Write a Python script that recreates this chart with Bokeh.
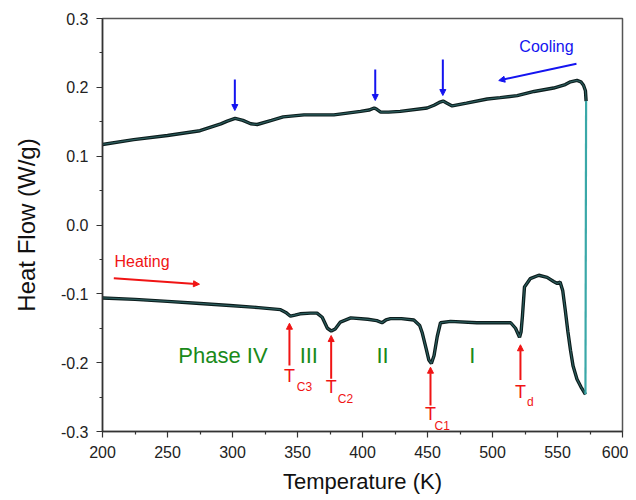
from bokeh.plotting import figure
from bokeh.models import Range1d, FixedTicker, Arrow, NormalHead
from bokeh.core.properties import value
from bokeh.embed import file_html
from bokeh.resources import INLINE

# ---- data ----
heat_T = [200, 225, 250, 275, 298, 320, 337, 341, 344.6, 348, 352, 360, 365, 369, 373, 376, 379, 383,
          391, 404, 411, 415, 418, 421.5, 430, 439.5, 444, 446, 449, 451, 453, 455, 457.5, 460, 467.7,
          488, 514, 517.7, 520.8, 522, 523, 524.6, 529, 535.6, 542, 547, 549.8, 552, 554, 556, 558, 560,
          562, 565, 568, 571.5]
heat_hf = [-0.106, -0.108, -0.111, -0.114, -0.117, -0.120, -0.123, -0.127, -0.1325, -0.131, -0.129,
           -0.128, -0.128, -0.134, -0.150, -0.154, -0.151, -0.141, -0.135, -0.137, -0.139, -0.142,
           -0.138, -0.136, -0.136, -0.138, -0.146, -0.157, -0.180, -0.196, -0.201, -0.190, -0.162,
           -0.142, -0.140, -0.142, -0.142, -0.150, -0.163, -0.155, -0.133, -0.090, -0.078, -0.073,
           -0.076, -0.082, -0.085, -0.083, -0.095, -0.124, -0.155, -0.182, -0.205, -0.224, -0.235, -0.246]

cool_T = [200, 224, 250, 275, 291, 296, 302, 308, 314, 319, 330, 339, 355, 378, 398.5, 405, 409, 411,
          414, 420, 429, 449.7, 455, 459, 462, 465, 469, 480, 496, 506, 519, 532, 547, 556, 560, 565,
          568, 570, 571.5, 572]
cool_hf = [0.117, 0.124, 0.130, 0.137, 0.147, 0.151, 0.155, 0.152, 0.147, 0.146, 0.152, 0.157, 0.160,
           0.160, 0.165, 0.167, 0.170, 0.168, 0.164, 0.164, 0.165, 0.170, 0.174, 0.178, 0.180, 0.177,
           0.173, 0.177, 0.183, 0.185, 0.188, 0.194, 0.199, 0.204, 0.208, 0.210, 0.208, 0.203, 0.195,
           0.180]

x_ticks = [200, 250, 300, 350, 400, 450, 500, 550, 600]
x_minor = [225, 275, 325, 375, 425, 475, 525, 575]
y_ticks = [-0.3, -0.2, -0.1, 0.0, 0.1, 0.2, 0.3]
y_minor = [-0.25, -0.15, -0.05, 0.05, 0.15, 0.25]
y_tick_labels = ["-0.3", "-0.2", "-0.1", "0.0", "0.1", "0.2", "0.3"]

# annotations (data coordinates)
cool_marks_T = [301.8, 409.8, 461.8]
cool_marks_top = [0.2114, 0.2259, 0.2404]
cool_marks_tip = [0.1663, 0.1809, 0.1881]

trans_T = [343.8, 375.9, 452.3, 521.5]
trans_tip = [-0.1427, -0.1606, -0.2066, -0.174]
trans_tail = [-0.2041, -0.2235, -0.2622, -0.225]
trans_T_label_y = [-0.2187, -0.2356, -0.2753, -0.2429]
trans_sub = ["C3", "C2", "C1", "d"]
trans_sub_x = [355.4, 386.9, 461.3, 529.2]
trans_sub_y = [-0.2347, -0.2525, -0.2913, -0.2575]

phase_labels = ["Phase IV", "III", "II", "I"]
phase_x = [292.7, 358.7, 415.4, 484.4]
phase_y = [-0.1896, -0.1896, -0.1896, -0.1896]

FONT = "Liberation Sans"

p = figure(width=628, height=500, output_backend="svg", toolbar_location=None,
           x_range=Range1d(200, 600), y_range=Range1d(-0.3, 0.3))
p.min_border_left = 102
p.min_border_right = 6
p.min_border_top = 18
p.min_border_bottom = 69
p.background_fill_color = "white"
p.border_fill_color = "white"
p.grid.visible = False
p.outline_line_color = "#555555"
p.outline_line_width = 1.5

p.xaxis.ticker = FixedTicker(ticks=x_ticks, minor_ticks=x_minor)
p.yaxis.ticker = FixedTicker(ticks=y_ticks, minor_ticks=y_minor)
p.yaxis.major_label_overrides = {t: s for t, s in zip(y_ticks, y_tick_labels)}
p.xaxis.axis_label = "Temperature (K)"
p.yaxis.axis_label = "Heat Flow (W/g)"
for ax in (p.xaxis, p.yaxis):
    ax.axis_line_color = "#333333"
    ax.axis_line_width = 1.5
    ax.major_tick_line_color = "#333333"
    ax.minor_tick_line_color = "#333333"
    ax.major_tick_line_width = 1.2
    ax.minor_tick_line_width = 1.2
    ax.major_tick_out = 6
    ax.major_tick_in = 0
    ax.minor_tick_out = 3
    ax.minor_tick_in = 0
    ax.major_label_text_font = FONT
    ax.major_label_text_font_size = "16px"
    ax.major_label_text_color = "#222222"
    ax.axis_label_text_font = FONT
    ax.axis_label_text_font_style = "normal"
    ax.axis_label_text_color = "#111111"
p.xaxis.axis_label_text_font_size = "22px"
p.yaxis.axis_label_text_font_size = "24px"
p.xaxis.major_label_standoff = 8
p.yaxis.major_label_standoff = 8
p.xaxis.axis_label_standoff = 8
p.yaxis.axis_label_standoff = 18

# curves
p.line(heat_T, heat_hf, line_color="#0c1c1c", line_width=3.4)
p.line(heat_T, heat_hf, line_color="#2a5c5c", line_width=1.2)
p.line(cool_T, cool_hf, line_color="#0c1c1c", line_width=3.4)
p.line(cool_T, cool_hf, line_color="#2a5c5c", line_width=1.2)
p.line([heat_T[-1], cool_T[-1]], [heat_hf[-1], cool_hf[-1]], line_color="#3aa8a8", line_width=2.2)

BLUE = "#1414f0"
RED = "#f01414"
GREEN = "#1a8a1a"

# cooling markers
for t, y0, y1 in zip(cool_marks_T, cool_marks_top, cool_marks_tip):
    p.add_layout(Arrow(x_start=t, y_start=y0, x_end=t, y_end=y1, line_color=BLUE, line_width=2,
                       end=NormalHead(size=6, fill_color=BLUE, line_color=BLUE)))

# cooling / heating direction arrows
p.add_layout(Arrow(x_start=564.6, y_start=0.2342, x_end=504.8, y_end=0.2099, line_color=BLUE,
                   line_width=2, end=NormalHead(size=6, fill_color=BLUE, line_color=BLUE)))
p.add_layout(Arrow(x_start=208.7, y_start=-0.0773, x_end=274.6, y_end=-0.086, line_color=RED,
                   line_width=2, end=NormalHead(size=6, fill_color=RED, line_color=RED)))
p.text(x=[541.5], y=[0.2593], text=["Cooling"], text_color=BLUE, text_font=value(FONT),
       text_font_size="16px", text_align="center", text_baseline="middle")
p.text(x=[209.2], y=[-0.0526], text=["Heating"], text_color=RED, text_font=value(FONT),
       text_font_size="16px", text_align="left", text_baseline="middle")

# transitions
for t, y0, y1 in zip(trans_T, trans_tail, trans_tip):
    p.add_layout(Arrow(x_start=t, y_start=y0, x_end=t, y_end=y1, line_color=RED, line_width=2,
                       end=NormalHead(size=6, fill_color=RED, line_color=RED)))
p.text(x=trans_T, y=trans_T_label_y, text=["T"] * len(trans_T), text_color=RED,
       text_font=value(FONT), text_font_size="18px", text_align="center", text_baseline="middle")
p.text(x=trans_sub_x, y=trans_sub_y, text=trans_sub, text_color=RED,
       text_font=value(FONT), text_font_size="12px", text_align="center", text_baseline="middle")

# phases
p.text(x=phase_x, y=phase_y, text=phase_labels, text_color=GREEN, text_font=value(FONT),
       text_font_size="22px", text_align="center", text_baseline="middle")

open("out.html", "w").write(file_html(p, INLINE))
